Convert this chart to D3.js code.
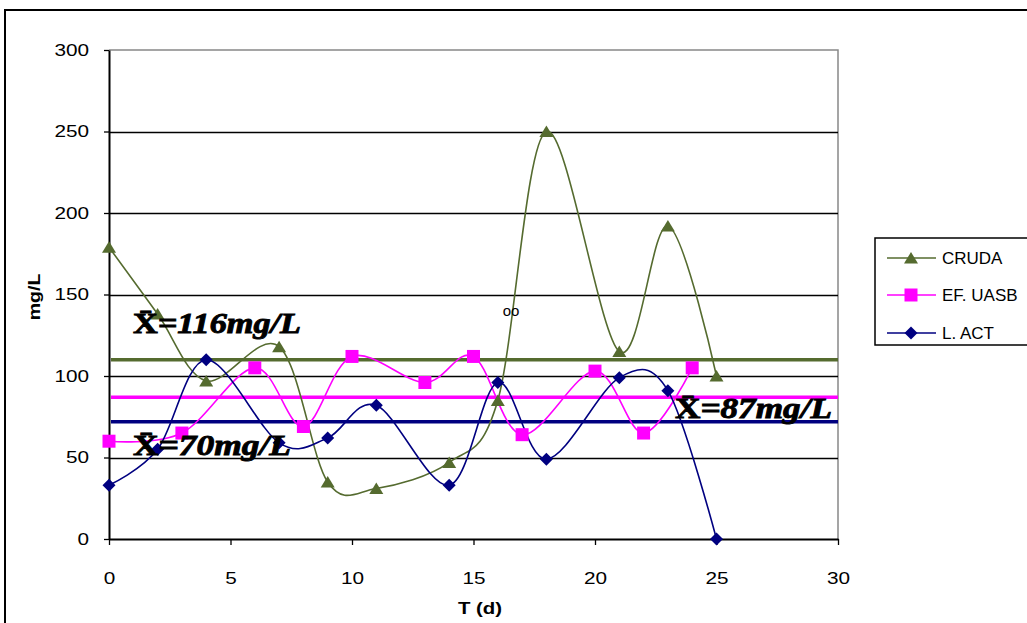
<!DOCTYPE html>
<html>
<head>
<meta charset="utf-8">
<script src="https://cdn.jsdelivr.net/npm/d3@7"></script>
<style>
  html, body { margin: 0; padding: 0; background: #fff; }
  svg { display: block; }
</style>
</head>
<body>
<svg id="chart" width="1027" height="623"></svg>
<script>
// Sampling days and concentrations (mg/L) for each stream
const crudaDays = [0, 2, 4, 7, 9, 11, 14, 16, 18, 21, 23, 25];
const crudaVals = [179, 138, 97, 118, 35, 31, 47, 85, 250, 115, 192, 100];

const uasbDays = [0, 3, 6, 8, 10, 13, 15, 17, 20, 22, 24];
const uasbVals = [60, 65, 105, 69, 112, 96, 112, 64, 103, 65, 105];

const actDays = [0, 2, 4, 7, 9, 11, 14, 16, 18, 21, 23, 25];
const actVals = [33, 55, 110, 59, 62, 82, 33, 96, 49, 99, 91, 0];

const seriesNames = ["CRUDA", "EF. UASB", "L. ACT"];

// Horizontal average lines and their annotations
const meanLevels = [110, 87, 72];
const meanTexts = ["116mg/L", "87mg/L", "70mg/L"];

const xTicks = [0, 5, 10, 15, 20, 25, 30];
const yTicks = [0, 50, 100, 150, 200, 250, 300];

const colors = ["#556B2F", "#FF00FF", "#000080"];

const svg = d3.select("#chart");

// Widen a text element horizontally by a factor
function widen(sel, k) {
  sel.each(function () {
    const w = this.getComputedTextLength();
    d3.select(this).attr("textLength", w * k).attr("lengthAdjust", "spacingAndGlyphs");
  });
}

// Outer chart frame
svg.append("rect")
  .attr("x", 5).attr("y", 10)
  .attr("width", 1030).attr("height", 620)
  .attr("fill", "#fff").attr("stroke", "#000").attr("stroke-width", 2);

const plot = { left: 109, right: 838, top: 50, bottom: 539 };

const x = d3.scaleLinear().domain([0, 30]).range([plot.left, plot.right]);
const y = d3.scaleLinear().domain([0, 300]).range([plot.bottom, plot.top]);

// Plot area border (grey, top & right)
svg.append("path")
  .attr("d", `M${plot.left},${plot.top}H${plot.right}V${plot.bottom}`)
  .attr("fill", "none").attr("stroke", "#888").attr("stroke-width", 1.5);

// Horizontal gridlines
svg.append("g").selectAll("line")
  .data(yTicks.filter(d => d > 0 && d < 300))
  .join("line")
  .attr("x1", plot.left).attr("x2", plot.right)
  .attr("y1", d => Math.round(y(d)) + 0.5).attr("y2", d => Math.round(y(d)) + 0.5)
  .attr("stroke", "#000").attr("stroke-width", 1.3);

// Axes
const font = "'Liberation Sans', Arial, sans-serif";
const fs = "17px";

const yAxis = svg.append("g")
  .attr("transform", `translate(${plot.left},0)`)
  .call(d3.axisLeft(y).tickValues(yTicks).tickSize(5).tickPadding(15).tickSizeOuter(0));
const xAxis = svg.append("g")
  .attr("transform", `translate(0,${plot.bottom})`)
  .call(d3.axisBottom(x).tickValues(xTicks).tickSize(6).tickPadding(26).tickSizeOuter(0));

[yAxis, xAxis].forEach(g => {
  g.select(".domain").attr("stroke", "#000").attr("stroke-width", 2);
  g.selectAll(".tick line").attr("stroke", "#000").attr("stroke-width", 1.3);
  g.selectAll(".tick text").attr("fill", "#000")
    .style("font-family", font).style("font-size", fs)
    .call(widen, 1.22);
});
xAxis.selectAll(".tick text").attr("dy", "0.35em").attr("y", 39);

// Axis titles
svg.append("text")
  .attr("transform", "translate(40,297) rotate(-90)")
  .attr("text-anchor", "middle")
  .style("font-family", font).style("font-size", "17px").style("font-weight", "bold")
  .text("mg/L")
  .call(widen, 1.15);
svg.append("text")
  .attr("x", 480).attr("y", 614)
  .attr("text-anchor", "middle")
  .style("font-family", font).style("font-size", "17px").style("font-weight", "bold")
  .text("T (d)")
  .call(widen, 1.2);

// Average lines
svg.append("g").selectAll("line")
  .data(meanLevels)
  .join("line")
  .attr("x1", x(0) + 2).attr("x2", x(30))
  .attr("y1", d => y(d)).attr("y2", d => y(d))
  .attr("stroke", (d, i) => colors[i]).attr("stroke-width", 3.5);

// Series
const series = [
  { name: seriesNames[0], days: crudaDays, vals: crudaVals, color: colors[0], shape: "triangle" },
  { name: seriesNames[1], days: uasbDays, vals: uasbVals, color: colors[1], shape: "square" },
  { name: seriesNames[2], days: actDays, vals: actVals, color: colors[2], shape: "diamond" }
];

function markerPath(shape) {
  if (shape === "triangle") return "M0,-6L7,5.5L-7,5.5Z";
  if (shape === "square") return "M-6.5,-6.5H6.5V6.5H-6.5Z";
  return "M0,-6.5L6.5,0L0,6.5L-6.5,0Z";
}

const line = d3.line()
  .x(d => x(d[0])).y(d => y(d[1]))
  .curve(d3.curveCatmullRom.alpha(0));

series.forEach(s => {
  const pts = s.days.map((d, i) => [d, s.vals[i]]);
  svg.append("path")
    .datum(pts)
    .attr("d", line)
    .attr("fill", "none").attr("stroke", s.color).attr("stroke-width", 1.6);
});
series.forEach(s => {
  const pts = s.days.map((d, i) => [d, s.vals[i]]);
  svg.append("g").selectAll("path")
    .data(pts)
    .join("path")
    .attr("transform", d => `translate(${x(d[0])},${y(d[1])})`)
    .attr("d", markerPath(s.shape))
    .attr("fill", s.color);
});

// Average annotations
const annoFont = "'Liberation Serif', 'DejaVu Serif', serif";
const annos = [
  { text: meanTexts[0], x: 133, y: 333, w: 168 },
  { text: meanTexts[2], x: 133, y: 455, w: 158 },
  { text: meanTexts[1], x: 675, y: 418, w: 157 }
];
annos.forEach(a => {
  const t = svg.append("text")
    .attr("x", a.x).attr("y", a.y)
    .attr("textLength", a.w).attr("lengthAdjust", "spacingAndGlyphs")
    .style("font-family", annoFont).style("font-size", "29px")
    .style("font-weight", "bold").style("font-style", "italic")
    .attr("fill", "#000").attr("stroke", "#000").attr("stroke-width", 0.9);
  t.append("tspan").style("font-style", "normal").text("X\u0304");
  t.append("tspan").text("=" + a.text);
});

// Small mark near day 16
svg.append("text")
  .attr("x", 511).attr("y", 316)
  .attr("text-anchor", "middle")
  .style("font-family", font).style("font-size", "15px")
  .text("oo");

// Legend
const lg = svg.append("g");
lg.append("rect")
  .attr("x", 875).attr("y", 238).attr("width", 160).attr("height", 107)
  .attr("fill", "#fff").attr("stroke", "#000").attr("stroke-width", 1.5);
const rows = [258, 295, 333];
series.forEach((s, i) => {
  lg.append("line")
    .attr("x1", 887).attr("x2", 936)
    .attr("y1", rows[i]).attr("y2", rows[i])
    .attr("stroke", s.color).attr("stroke-width", 1.6);
  lg.append("path")
    .attr("transform", `translate(911,${rows[i]})`)
    .attr("d", markerPath(s.shape))
    .attr("fill", s.color);
  lg.append("text")
    .attr("x", 942).attr("y", rows[i]).attr("dy", "0.35em")
    .style("font-family", font).style("font-size", fs)
    .text(s.name);
});
</script>
</body>
</html>
